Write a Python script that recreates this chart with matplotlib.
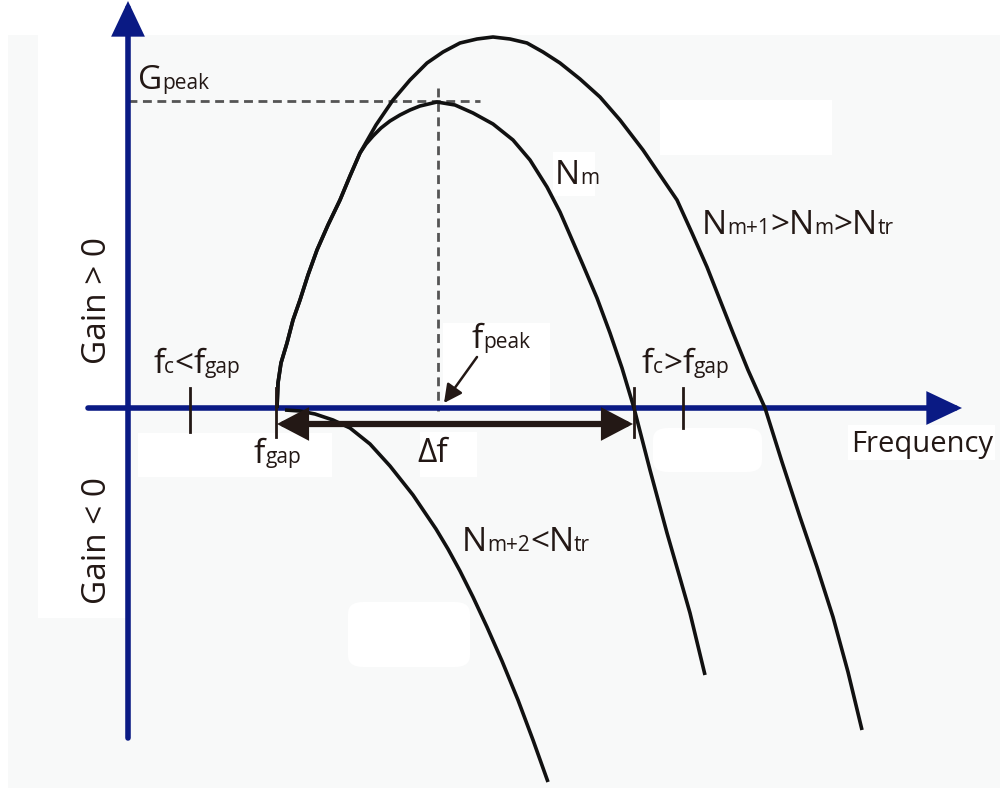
import numpy as np
import matplotlib.pyplot as plt
from matplotlib.patches import Rectangle, FancyBboxPatch, FancyArrowPatch

# schematic gain spectra: frequency vs. material gain (arbitrary units)
freq_m1 = [277, 278, 281, 287, 293, 300, 308, 317, 328, 340, 350, 360, 376,
           393, 410, 427, 443, 460, 477, 493, 510, 527, 543, 560, 580, 600,
           620, 643, 660, 677, 692, 707, 720, 733, 748, 765, 782, 800, 817,
           833, 848, 862]
gain_m1 = [0, 25, 45, 65, 88, 108, 133, 158, 183, 208, 232, 255, 283,
           308, 328, 345, 356, 365, 369, 371, 369, 365, 356, 345, 329, 311,
           288, 258, 233, 208, 175, 141, 108, 75, 38, 0, -54, -109, -159,
           -209, -264, -322]

freq_m = [277, 278, 281, 287, 293, 300, 308, 317, 328, 340, 350, 360, 366,
          373, 381, 390, 400, 410, 420, 437, 455, 473, 493, 513, 530, 547,
          560, 570, 583, 597, 610, 622, 634, 650, 667, 680, 690, 705]
gain_m = [0, 25, 45, 65, 88, 108, 133, 158, 183, 208, 232, 255, 264,
          272, 280, 287, 293, 298, 302, 306, 303, 295, 284, 268, 248, 221,
          196, 173, 143, 110, 75, 40, 0, -62, -125, -170, -205, -267]

freq_m2 = [285, 300, 315, 333, 350, 370, 390, 413, 436, 448, 460, 473, 487,
           502, 518, 533, 548]
gain_m2 = [-2, -3, -6, -12, -20, -36, -58, -87, -121, -141, -163, -189, -219,
           -253, -292, -332, -374]

f_gap = 276
f_cross = 634
f_peak = 438
g_peak = 306
f_c_low = 190
f_c_high = 683

INK = '#231815'
NAVY = '#0a1a84'
BIG, SMALL = 24, 15

plt.rcParams['font.family'] = ['Open Sans', 'DejaVu Sans']

fig = plt.figure(figsize=(10, 7.88), dpi=100)
ax = fig.add_axes([0, 0, 1, 1])
ax.set_xlim(0, 1000)
ax.set_ylim(-380, 408)
ax.axis('off')
ax.patch.set_visible(False)
ax.set_zorder(2)


def fbox(x0, y0, x1, y1, color, rounded=False):
    # box given in figure pixels from the top-left corner
    xy = (x0 / 1000, 1 - y1 / 788)
    w, h = (x1 - x0) / 1000, (y1 - y0) / 788
    if rounded:
        p = FancyBboxPatch(xy, w, h, boxstyle='round,pad=0,rounding_size=0.015',
                           transform=fig.transFigure, fc=color, ec='none', zorder=-1)
    else:
        p = Rectangle(xy, w, h, transform=fig.transFigure, fc=color, ec='none', zorder=-1)
    fig.patches.append(p)


# faint panel behind the drawing
fbox(8, 35, 1000, 788, '#f8f9f9')
fbox(38, 35, 128, 618, 'white')
fbox(660, 100, 832, 155, 'white')
fbox(138, 433, 332, 477, 'white')
fbox(420, 432, 477, 477, 'white')
fbox(443, 323, 550, 406, 'white')
fbox(848, 425, 995, 460, 'white')
fbox(553, 152, 595, 196, 'white')
fbox(653, 428, 762, 472, 'white', rounded=True)
fbox(348, 602, 470, 667, 'white', rounded=True)

# guide lines to the peak
ax.plot([128, 480], [g_peak + 1, g_peak + 1], color='#555555', lw=2,
        ls=(0, (3.2, 2)), zorder=1)
ax.plot([f_peak, f_peak], [320, -3], color='#555555', lw=2,
        ls=(0, (3.2, 2)), zorder=1)

# gain curves
for fx, gy in [(freq_m1, gain_m1), (freq_m, gain_m), (freq_m2, gain_m2)]:
    ax.plot(fx, gy, color='#111111', lw=2.6, solid_capstyle='butt',
            solid_joinstyle='round', zorder=3)

# axes with arrow heads
ax.add_patch(FancyArrowPatch((128, -330), (128, 407), arrowstyle='-|>,head_length=0.95,head_width=0.45',
                             mutation_scale=20, lw=4, color=NAVY, shrinkA=0, shrinkB=0,
                             joinstyle='miter', zorder=2))
ax.add_patch(FancyArrowPatch((88, 0), (962, 0), arrowstyle='-|>,head_length=0.95,head_width=0.45',
                             mutation_scale=20, lw=4, color=NAVY, shrinkA=0, shrinkB=0,
                             joinstyle='miter', zorder=2))

# frequency markers
for f, lo in [(f_c_low, -24), (f_gap, -29), (f_cross, -29), (f_c_high, -20)]:
    ax.plot([f, f], [20, lo], color=INK, lw=2, zorder=4)

# bandwidth arrow
ax.add_patch(FancyArrowPatch((f_gap + 1, -16), (f_cross - 1, -16),
                             arrowstyle='<|-|>,head_length=0.8,head_width=0.42',
                             mutation_scale=20, lw=4.5, color=INK, shrinkA=0, shrinkB=0,
                             joinstyle='miter', zorder=4))

# pointer to the peak frequency
ax.add_patch(FancyArrowPatch((477, 51), (444, 5),
                             arrowstyle='-|>,head_length=0.55,head_width=0.28',
                             mutation_scale=20, lw=1.8, color=INK, shrinkA=0, shrinkB=0,
                             zorder=4))

renderer = fig.canvas.get_renderer()


def rich(x, y, parts):
    # consecutive pieces sharing one baseline, small ones act as subscripts
    for s, size in parts:
        t = ax.text(x, y, s, fontsize=size, ha='left', va='baseline', color=INK, zorder=5)
        bb = t.get_window_extent(renderer=renderer)
        x = ax.transData.inverted().transform((bb.x1, bb.y0))[0]


def gy(py):
    return 408 - py


rich(138, gy(89), [('G', BIG), ('peak', SMALL)])
rich(555, gy(184), [('N', BIG), ('m', SMALL)])
rich(702, gy(234), [('N', BIG), ('m+1', SMALL), ('>', BIG), ('N', BIG), ('m', SMALL),
                    ('>', BIG), ('N', BIG), ('tr', SMALL)])
rich(153, gy(373), [('f', BIG), ('c', SMALL), ('<', BIG), ('f', BIG), ('gap', SMALL)])
rich(642, gy(373), [('f', BIG), ('c', SMALL), ('>', BIG), ('f', BIG), ('gap', SMALL)])
rich(472, gy(348), [('f', BIG), ('peak', SMALL)])
rich(254, gy(463), [('f', BIG), ('gap', SMALL)])
rich(417, gy(462), [('\u0394f', BIG)])
rich(462, gy(551), [('N', BIG), ('m+2', SMALL), ('<', BIG), ('N', BIG), ('tr', SMALL)])
ax.text(851, gy(452), 'Frequency', fontsize=21, ha='left', va='baseline', color=INK, zorder=5)

ax.text(97, gy(300), 'Gain > 0', fontsize=BIG, rotation=90, ha='center', va='center',
        color=INK, zorder=5)
ax.text(97, gy(540), 'Gain < 0', fontsize=BIG, rotation=90, ha='center', va='center',
        color=INK, zorder=5)

fig.savefig('out.png', dpi=100)
